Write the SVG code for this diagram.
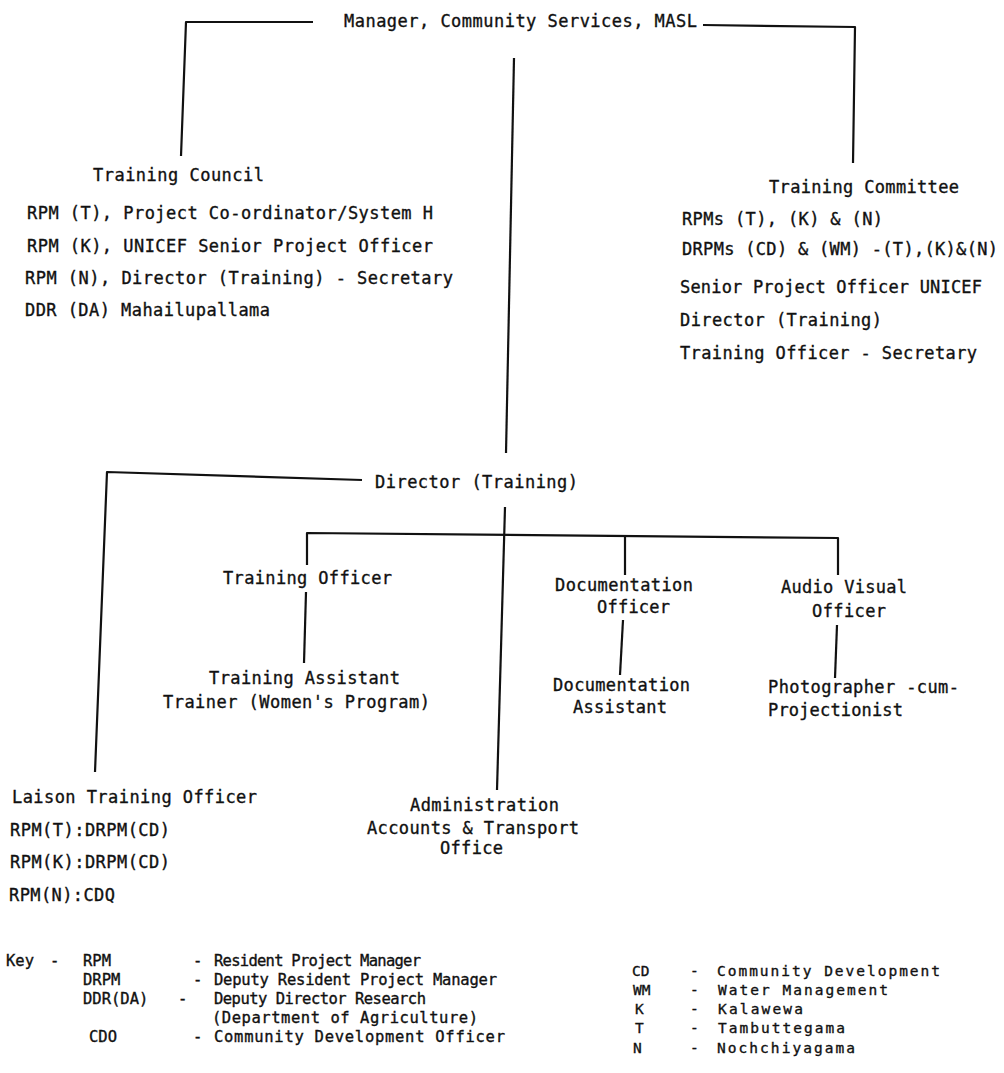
<svg xmlns="http://www.w3.org/2000/svg" width="1004" height="1073" viewBox="0 0 1004 1073">
  <style>
    text { font-family: "DejaVu Sans Mono", "Liberation Mono", monospace; font-size: 17px; fill: #111; stroke: #111; stroke-width: 0.35px; }
    .key { font-size: 15.5px; }
    .keyr { font-size: 14.5px; }
    .wire { fill: none; stroke: #111; stroke-width: 2.2; stroke-linejoin: round; stroke-linecap: butt; }
  </style>
  <rect width="1004" height="1073" fill="#ffffff"/>

  <!-- reporting lines -->
  <g id="connectors">
    <polyline class="wire" points="313,22 186,22 181,156"/>
    <polyline class="wire" points="703,25 855,27 853,163"/>
    <line class="wire" x1="514" y1="58" x2="506" y2="453"/>
    <polyline class="wire" points="362,480 107,472 95,772"/>
    <line class="wire" x1="505" y1="507" x2="497" y2="790"/>
    <polyline class="wire" points="307,565 307,533 838,538 838,575"/>
    <line class="wire" x1="625" y1="537" x2="625" y2="575"/>
    <line class="wire" x1="306" y1="592" x2="304" y2="663"/>
    <line class="wire" x1="623" y1="620" x2="620" y2="675"/>
    <line class="wire" x1="837" y1="625" x2="835" y2="678"/>
  </g>

  <g id="manager">
    <text x="344" y="27" textLength="353" lengthAdjust="spacing">Manager, Community Services, MASL</text>
  </g>

  <g id="training-council">
    <text x="93" y="181" textLength="171" lengthAdjust="spacing">Training Council</text>
    <text x="27" y="219" textLength="406" lengthAdjust="spacing">RPM (T), Project Co-ordinator/System H</text>
    <text x="27" y="252" textLength="406" lengthAdjust="spacing">RPM (K), UNICEF Senior Project Officer</text>
    <text x="25" y="284" textLength="428" lengthAdjust="spacing">RPM (N), Director (Training) - Secretary</text>
    <text x="25" y="316" textLength="245" lengthAdjust="spacing">DDR (DA) Mahailupallama</text>
  </g>

  <g id="training-committee">
    <text x="769" y="193" textLength="190" lengthAdjust="spacing">Training Committee</text>
    <text x="682" y="225" textLength="201" lengthAdjust="spacing">RPMs (T), (K) &amp; (N)</text>
    <text x="682" y="255" textLength="316" lengthAdjust="spacing">DRPMs (CD) &amp; (WM) -(T),(K)&amp;(N)</text>
    <text x="680" y="293" textLength="302" lengthAdjust="spacing">Senior Project Officer UNICEF</text>
    <text x="680" y="326" textLength="202" lengthAdjust="spacing">Director (Training)</text>
    <text x="680" y="359" textLength="297" lengthAdjust="spacing">Training Officer - Secretary</text>
  </g>

  <g id="director-training">
    <text x="375" y="488" textLength="203" lengthAdjust="spacing">Director (Training)</text>
  </g>

  <g id="training-officer">
    <text x="223" y="584" textLength="169" lengthAdjust="spacing">Training Officer</text>
  </g>

  <g id="training-assistant">
    <text x="209" y="684" textLength="191" lengthAdjust="spacing">Training Assistant</text>
    <text x="163" y="708" textLength="267" lengthAdjust="spacing">Trainer (Women's Program)</text>
  </g>

  <g id="documentation-officer">
    <text x="555" y="591" textLength="138" lengthAdjust="spacing">Documentation</text>
    <text x="597" y="613" textLength="73" lengthAdjust="spacing">Officer</text>
  </g>

  <g id="documentation-assistant">
    <text x="553" y="691" textLength="137" lengthAdjust="spacing">Documentation</text>
    <text x="573" y="713" textLength="94" lengthAdjust="spacing">Assistant</text>
  </g>

  <g id="audio-visual-officer">
    <text x="781" y="593" textLength="126" lengthAdjust="spacing">Audio Visual</text>
    <text x="812" y="617" textLength="74" lengthAdjust="spacing">Officer</text>
  </g>

  <g id="photographer">
    <text x="768" y="693" textLength="191" lengthAdjust="spacing">Photographer -cum-</text>
    <text x="768" y="716" textLength="135" lengthAdjust="spacing">Projectionist</text>
  </g>

  <g id="liaison-training-officer">
    <text x="12" y="803" textLength="245" lengthAdjust="spacing">Laison Training Officer</text>
    <text x="10" y="836" textLength="160" lengthAdjust="spacing">RPM(T):DRPM(CD)</text>
    <text x="10" y="868" textLength="160" lengthAdjust="spacing">RPM(K):DRPM(CD)</text>
    <text x="9" y="901" textLength="106" lengthAdjust="spacing">RPM(N):CDQ</text>
  </g>

  <g id="administration-office">
    <text x="410" y="811" textLength="149" lengthAdjust="spacing">Administration</text>
    <text x="367" y="834" textLength="212" lengthAdjust="spacing">Accounts &amp; Transport</text>
    <text x="440" y="854" textLength="63" lengthAdjust="spacing">Office</text>
  </g>

  <!-- abbreviations -->
  <g id="key">
    <text class="key" x="6" y="966">Key</text>
    <text class="key" x="50" y="966">-</text>
    <text class="key" x="83" y="966">RPM</text>
    <text class="key" x="193" y="966">-</text>
    <text class="key" x="214" y="966" textLength="207" lengthAdjust="spacing">Resident Project Manager</text>
    <text class="key" x="83" y="985">DRPM</text>
    <text class="key" x="193" y="985">-</text>
    <text class="key" x="214" y="985" textLength="283" lengthAdjust="spacing">Deputy Resident Project Manager</text>
    <text class="key" x="83" y="1004">DDR(DA)</text>
    <text class="key" x="178" y="1004">-</text>
    <text class="key" x="214" y="1004" textLength="212" lengthAdjust="spacing">Deputy Director Research</text>
    <text class="key" x="212" y="1023" textLength="266" lengthAdjust="spacing">(Department of Agriculture)</text>
    <text class="key" x="89" y="1042">CDO</text>
    <text class="key" x="193" y="1042">-</text>
    <text class="key" x="214" y="1042" textLength="291" lengthAdjust="spacing">Community Development Officer</text>

    <text class="keyr" x="632" y="976">CD</text>
    <text class="keyr" x="690" y="976">-</text>
    <text class="keyr" x="717" y="976" textLength="223" lengthAdjust="spacing">Community Development</text>
    <text class="keyr" x="633" y="995">WM</text>
    <text class="keyr" x="690" y="995">-</text>
    <text class="keyr" x="718" y="995" textLength="170" lengthAdjust="spacing">Water Management</text>
    <text class="keyr" x="635" y="1014">K</text>
    <text class="keyr" x="690" y="1014">-</text>
    <text class="keyr" x="718" y="1014" textLength="85" lengthAdjust="spacing">Kalawewa</text>
    <text class="keyr" x="635" y="1033">T</text>
    <text class="keyr" x="690" y="1033">-</text>
    <text class="keyr" x="718" y="1033" textLength="127" lengthAdjust="spacing">Tambuttegama</text>
    <text class="keyr" x="633" y="1053">N</text>
    <text class="keyr" x="690" y="1053">-</text>
    <text class="keyr" x="717" y="1053" textLength="138" lengthAdjust="spacing">Nochchiyagama</text>
  </g>
</svg>
